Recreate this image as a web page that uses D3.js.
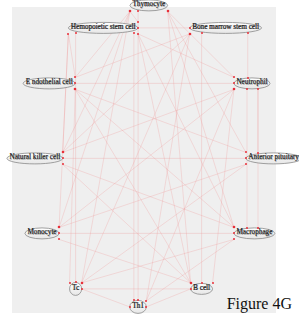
<!DOCTYPE html>
<html><head><meta charset="utf-8">
<script src="https://cdn.jsdelivr.net/npm/d3@7"></script>
<style>body{margin:0;background:#fff;overflow:hidden}</style></head>
<body><svg id="c" width="299" height="317"></svg>
<script>
// Node names and their layout coordinates (layout units, -1..1 circle layout)
const nodeNames = ["Thymocyte","Hemopoietic stem cell","Bone marrow stem cell","E ndothelial cell","Neutrophil","Natural killer cell","Anterior pituitary","Monocyte","Macrophage","Tc","B cell","Th1"];
const nodeLayoutX = [-0.01,-0.39,0.63,-0.84,0.85,-0.96,1.03,-0.90,0.87,-0.62,0.43,-0.10];
const nodeLayoutY = [-1.02,-0.87,-0.87,-0.50,-0.50,0.00,0.00,0.50,0.50,0.87,0.87,0.99];
// Edges (source index, target index)
const edgeSource = [0,0,0,0,0,0,0,0,0,0, 1,1,1,1,1,1,1,1,1, 2,2,2,2,2,2, 3,3,3,3,3, 4,4,4,4,4,4,4, 5,5,5, 6,6, 7,7, 8,8, 9,9, 11];
const edgeTarget = [4,8,10,11,9,7,5,3,6,1, 2,3,5,7,9,10,8,4,11, 4,10,11,9,5,3, 4,6,8,10,9, 8,8,6,5,7,11,10, 6,8,10, 7,9, 8,10, 9,11, 10,11, 10];
const captionText = "Figure 4G";

const svg = d3.select("#c");
svg.append("rect").attr("x",12).attr("y",7).attr("width",264).attr("height",306).attr("fill","#efefef");

const x = d3.scaleLinear().domain([-1,1]).range([30,270]);
const y = d3.scaleLinear().domain([-1,1]).range([7,307]);

const defs = svg.append("defs");
const grad = defs.append("linearGradient").attr("id","eg").attr("x1",0).attr("y1",0).attr("x2",0).attr("y2",1);
grad.append("stop").attr("offset","0%").attr("stop-color","#ffffff");
grad.append("stop").attr("offset","100%").attr("stop-color","#e6e6e6");

const gEdges = svg.append("g");
const gNodes = svg.append("g");
const gDots = svg.append("g");

const nodes = nodeNames.map((n,i)=>({name:n, cx:x(nodeLayoutX[i]), cy:y(nodeLayoutY[i])}));
const ng = gNodes.selectAll("g").data(nodes).join("g");
ng.append("ellipse");
ng.append("text").attr("class","sh")
  .attr("x",d=>d.cx+0.6).attr("y",d=>d.cy+2.9)
  .attr("text-anchor","middle").attr("font-family","Liberation Serif, serif").attr("font-size",7.2)
  .attr("fill","#999").text(d=>d.name);
ng.append("text").attr("class","tx")
  .attr("x",d=>d.cx).attr("y",d=>d.cy+2.3)
  .attr("text-anchor","middle").attr("font-family","Liberation Serif, serif").attr("font-size",7.2)
  .attr("fill","#1a1a1a").attr("stroke","#1a1a1a").attr("stroke-width",0.15).text(d=>d.name);
ng.each(function(d){
  const w = d3.select(this).select("text.tx").node().getComputedTextLength();
  d.rx = Math.max(w/2+2.5, 5.5);
  d.ry = d.name.length<4 ? 6.5 : 5.5;
  d.ey = d.cy+1.4;
});
ng.select("ellipse").attr("cx",d=>d.cx).attr("cy",d=>d.ey).attr("rx",d=>d.rx).attr("ry",d=>d.ry)
  .attr("fill","url(#eg)").attr("stroke","#8a8a8a").attr("stroke-width",0.8);

// edges with port routing
const edges = edgeSource.map((s,i)=>({s, t:edgeTarget[i]}));
const keyOf = e => Math.min(e.s,e.t)+"-"+Math.max(e.s,e.t);
const totals = {}; edges.forEach(e=>{ totals[keyOf(e)] = (totals[keyOf(e)]||0)+1; });
const counts = {};
const ports = [];
function sidePort(a,b){
  const side = b.cx >= a.cx ? 1 : -1;
  const dy = b.cy - a.cy;
  const f = dy < -20 ? -1 : (dy > 20 ? 1 : 0);
  return [a.cx + side*a.rx, a.ey + f*6];
}
edges.forEach(e=>{
  const a = nodes[e.s], b = nodes[e.t];
  const key = keyOf(e);
  counts[key] = (counts[key]||0)+1;
  const k = counts[key];
  const lo = Math.max(a.cx-a.rx, b.cx-b.rx), hi = Math.min(a.cx+a.rx, b.cx+b.rx);
  let p1, p2;
  if (hi-lo > 8 && Math.abs(a.cy-b.cy) > 30) {
    const mid = (lo+hi)/2;
    const xx = totals[key] > 1 ? (k===1 ? mid-5 : mid+6) : mid;
    const down = a.cy < b.cy;
    p1 = [xx, down ? a.ey + a.ry : a.ey - a.ry];
    p2 = [xx, down ? b.ey - b.ry : b.ey + b.ry];
  } else {
    p1 = sidePort(a,b);
    p2 = sidePort(b,a);
  }
  e.p1 = p1; e.p2 = p2;
  ports.push(p1, p2);
});
gEdges.selectAll("line").data(edges).join("line")
  .attr("x1",d=>d.p1[0]).attr("y1",d=>d.p1[1]).attr("x2",d=>d.p2[0]).attr("y2",d=>d.p2[1])
  .attr("stroke","#ee8f8f").attr("stroke-opacity",0.32).attr("stroke-width",0.8);

const seen = new Map();
ports.forEach(p=>{ const k=Math.round(p[0])+","+Math.round(p[1]); seen.set(k,(seen.get(k)||0)+1); });
gDots.selectAll("circle").data([...seen.entries()]).join("circle")
  .attr("cx",d=>+d[0].split(",")[0]).attr("cy",d=>+d[0].split(",")[1])
  .attr("r",d=>d[1]>3?1.3:1.0).attr("fill","#e8303a");

svg.append("text").attr("x",292).attr("y",309).attr("text-anchor","end")
  .attr("font-family","Liberation Serif, serif").attr("font-size",16).attr("fill","#111").text(captionText);
</script>
</body></html>
